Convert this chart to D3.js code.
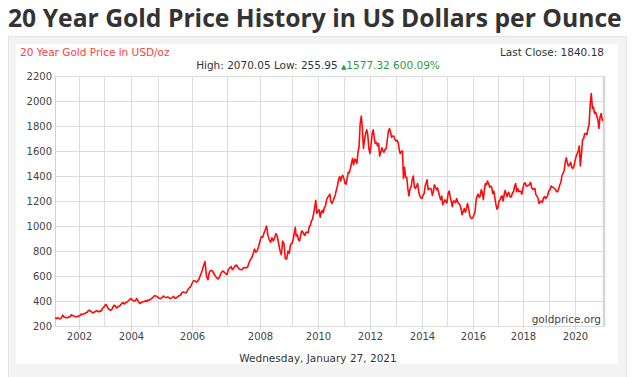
<!DOCTYPE html>
<html>
<head>
<meta charset="utf-8">
<script src="https://cdn.jsdelivr.net/npm/d3@7"></script>
<style>
  body { margin: 0; background: #fff; }
</style>
</head>
<body>
<div class="gold-chart"></div>
<script>
// gold price in USD/oz, two readings a month (1st and 16th)
const gold2001 = [272, 265, 262, 259, 266, 263, 257, 260, 268, 287, 274, 270, 267, 266, 268, 274, 275, 290, 284, 280, 278, 274, 274, 277]
const gold2002 = [279, 284, 296, 293, 292, 300, 302, 306, 310, 322, 327, 318, 316, 305, 308, 312, 318, 323, 318, 313, 320, 318, 330, 345]
const gold2003 = [352, 366, 372, 350, 338, 332, 326, 332, 350, 366, 362, 346, 347, 357, 360, 371, 381, 388, 376, 384, 390, 396, 404, 413]
const gold2004 = [420, 408, 404, 400, 402, 420, 405, 390, 380, 386, 392, 396, 396, 402, 396, 408, 404, 412, 418, 425, 434, 444, 440, 438]
const gold2005 = [428, 422, 420, 430, 440, 430, 428, 432, 425, 418, 428, 438, 422, 425, 435, 442, 448, 468, 472, 468, 466, 488, 505, 512]
const gold2006 = [540, 562, 562, 550, 558, 578, 610, 640, 680, 715, 600, 570, 630, 645, 640, 622, 600, 585, 576, 595, 625, 640, 632, 620]
const gold2007 = [612, 650, 665, 675, 650, 662, 680, 688, 670, 656, 652, 650, 665, 668, 665, 670, 705, 730, 745, 775, 815, 790, 800, 835]
const gold2008 = [880, 915, 910, 945, 970, 1000, 925, 890, 870, 905, 880, 905, 940, 920, 860, 805, 770, 880, 860, 740, 735, 800, 780, 855]
const gold2009 = [860, 890, 940, 990, 920, 930, 890, 880, 920, 960, 955, 935, 925, 950, 950, 945, 995, 1005, 1040, 1055, 1100, 1150, 1205, 1100]
const gold2010 = [1120, 1130, 1070, 1115, 1125, 1105, 1150, 1160, 1210, 1230, 1240, 1255, 1195, 1180, 1200, 1225, 1250, 1290, 1320, 1370, 1395, 1360, 1395, 1405]
const gold2011 = [1375, 1340, 1335, 1385, 1430, 1425, 1460, 1500, 1540, 1490, 1535, 1525, 1500, 1590, 1640, 1820, 1880, 1780, 1620, 1690, 1740, 1770, 1730, 1620]
const gold2012 = [1580, 1650, 1740, 1770, 1700, 1660, 1670, 1640, 1660, 1560, 1590, 1625, 1600, 1590, 1615, 1620, 1690, 1760, 1780, 1750, 1710, 1720, 1720, 1695]
const gold2013 = [1680, 1685, 1665, 1610, 1580, 1595, 1600, 1380, 1470, 1390, 1390, 1300, 1240, 1295, 1310, 1370, 1400, 1310, 1300, 1320, 1340, 1270, 1240, 1225]
const gold2014 = [1220, 1245, 1260, 1320, 1340, 1370, 1290, 1300, 1300, 1295, 1245, 1275, 1330, 1310, 1290, 1305, 1270, 1235, 1210, 1240, 1170, 1190, 1210, 1195]
const gold2015 = [1185, 1260, 1280, 1230, 1200, 1155, 1200, 1200, 1185, 1220, 1190, 1180, 1170, 1140, 1090, 1115, 1140, 1110, 1140, 1180, 1140, 1085, 1065, 1060]
const gold2016 = [1070, 1090, 1120, 1210, 1240, 1255, 1230, 1240, 1290, 1270, 1210, 1290, 1340, 1330, 1360, 1340, 1310, 1320, 1310, 1260, 1280, 1225, 1175, 1135]
const gold2017 = [1150, 1200, 1210, 1235, 1240, 1200, 1250, 1285, 1255, 1235, 1270, 1255, 1230, 1235, 1265, 1275, 1320, 1340, 1275, 1300, 1275, 1280, 1275, 1255]
const gold2018 = [1305, 1340, 1345, 1320, 1320, 1325, 1330, 1350, 1310, 1295, 1295, 1300, 1250, 1240, 1220, 1180, 1195, 1200, 1190, 1225, 1235, 1220, 1230, 1250]
const gold2019 = [1285, 1290, 1320, 1310, 1310, 1300, 1295, 1275, 1275, 1295, 1330, 1345, 1400, 1420, 1440, 1510, 1545, 1505, 1480, 1490, 1510, 1470, 1460, 1475]
const gold2020 = [1520, 1555, 1580, 1600, 1640, 1480, 1580, 1690, 1700, 1740, 1740, 1730, 1780, 1810, 1975, 2060, 1940, 1950, 1900, 1910, 1880, 1850, 1780, 1870]
const gold2021 = [1900, 1850]
const lastClose = 1840.18

const goldByYear = [gold2001, gold2002, gold2003, gold2004, gold2005, gold2006, gold2007,
    gold2008, gold2009, gold2010, gold2011, gold2012, gold2013, gold2014, gold2015,
    gold2016, gold2017, gold2018, gold2019, gold2020, gold2021]

const yTicks = [200, 400, 600, 800, 1000, 1200, 1400, 1600, 1800, 2000, 2200]
const xYears = [2002, 2003, 2004, 2005, 2006, 2007, 2008, 2009, 2010, 2011, 2012, 2013, 2014, 2015, 2016, 2017, 2018, 2019, 2020]
const xLabelYears = [2002, 2004, 2006, 2008, 2010, 2012, 2014, 2016, 2018, 2020]

const chartTitle = "20 Year Gold Price History in US Dollars per Ounce"
const subTitle = "20 Year Gold Price in USD/oz"
const lastCloseText = "Last Close: 1840.18"
const statsText = "High: 2070.05 Low: 255.95 "
const changeText = "1577.32 600.09%"
const dateText = "Wednesday, January 27, 2021"
const sourceText = "goldprice.org"

const width = 640
const height = 377
const margin = { top: 76, right: 37, bottom: 51, left: 55 }
const firstDate = new Date(2001, 0, 27)
const lastDate = new Date(2021, 0, 27)

let xGold, yGold, svgGold

// flatten to {date, price}
const goldData = []
goldByYear.forEach((vals, i) => {
    vals.forEach((v, j) => {
        goldData.push({ date: new Date(2001 + i, Math.floor(j / 2), j % 2 ? 16 : 1), price: v })
    })
})
goldData.push({ date: lastDate, price: lastClose })

initGold()

function initGold() {
    // the source chart spaces years unevenly (2005-2009 wider), so piecewise scale
    const yearDates = [firstDate, ...xYears.map(y => new Date(y, 0, 1)), lastDate]
    const yearPx = [0, 24, 49, 76, 103, 137, 172, 205, 237, 263, 289, 315, 341, 367, 392, 418, 443, 468, 494, 520, 548]
    xGold = d3.scaleTime()
        .domain(yearDates)
        .range(yearPx.map(p => margin.left + p))
    yGold = d3.scaleLinear()
        .domain([200, 2200])
        .range([height - margin.bottom, margin.top])

    svgGold = d3.select(".gold-chart")
        .append("svg")
        .attr("width", width)
        .attr("height", height)
        .style("display", "block")

    // page title
    const title = svgGold.append("text")
        .text(chartTitle)
        .attr("x", 8)
        .attr("y", 27)
        .attr("fill", "#333")
        .attr("font-family", "'Open Sans', sans-serif")
        .attr("font-weight", "700")
        .attr("font-size", 26)
    const tw = title.node().getComputedTextLength()
    title.attr("font-size", 26 * 614 / tw)

    // grey frame and white card
    svgGold.append("rect")
        .attr("x", 8.5).attr("y", 36.5)
        .attr("width", 618).attr("height", 350)
        .attr("fill", "#f3f3f3")
        .attr("stroke", "#e4e4e4")
    svgGold.append("rect")
        .attr("x", 16).attr("y", 44)
        .attr("width", 602).attr("height", 320)
        .attr("fill", "#fff")

    const font = "'DejaVu Sans', Verdana, sans-serif"

    svgGold.append("text")
        .text(subTitle)
        .attr("x", 20).attr("y", 56)
        .attr("fill", "#ff4040")
        .attr("font-family", font).attr("font-size", 10.5)
    svgGold.append("text")
        .text(lastCloseText)
        .attr("x", 604).attr("y", 56)
        .attr("text-anchor", "end")
        .attr("fill", "#333")
        .attr("font-family", font).attr("font-size", 10.5)

    const stats = svgGold.append("text")
        .attr("x", 318).attr("y", 69)
        .attr("text-anchor", "middle")
        .attr("font-family", font).attr("font-size", 10.5)
    stats.append("tspan").text(statsText).attr("fill", "#333")
    stats.append("tspan").text("\u25B2").attr("fill", "#2e9a3a").attr("font-size", 7)
    stats.append("tspan").text(changeText).attr("fill", "#2e9a3a")

    // grid
    const plot = svgGold.append("g")
    plot.selectAll("line.hgrid")
        .data(yTicks)
        .join("line")
        .attr("class", "hgrid")
        .attr("x1", margin.left).attr("x2", width - margin.right)
        .attr("y1", d => yGold(d) + 0.5).attr("y2", d => yGold(d) + 0.5)
        .attr("stroke", "#dcdcdc")
    plot.selectAll("line.vgrid")
        .data(xYears)
        .join("line")
        .attr("class", "vgrid")
        .attr("x1", d => Math.round(xGold(new Date(d, 0, 1))) + 0.5)
        .attr("x2", d => Math.round(xGold(new Date(d, 0, 1))) + 0.5)
        .attr("y1", margin.top)
        .attr("y2", d => height - margin.bottom + (d % 2 ? 0 : 4))
        .attr("stroke", "#dcdcdc")
    plot.append("line")
        .attr("x1", margin.left + 0.5).attr("x2", margin.left + 0.5)
        .attr("y1", margin.top).attr("y2", height - margin.bottom + 1)
        .attr("stroke", "#d0d0d0")
    plot.append("line")
        .attr("x1", width - margin.right + 1).attr("x2", width - margin.right + 1)
        .attr("y1", margin.top).attr("y2", height - margin.bottom + 1)
        .attr("stroke", "#d6d6d6").attr("stroke-width", 2.5)

    // y axis labels
    const yAxis = d3.axisLeft(yGold).tickValues(yTicks)
        .tickFormat(d3.format("d"))
        .tickSize(0).tickPadding(3)
    svgGold.append("g")
        .attr("transform", `translate(${margin.left}, 0)`)
        .call(yAxis)
        .call(g => g.select(".domain").remove())
        .selectAll("text")
        .attr("fill", "#444")
        .attr("font-family", font)
        .attr("font-size", 10)

    // x axis labels
    const xAxis = d3.axisBottom(xGold)
        .tickValues(xLabelYears.map(y => new Date(y, 0, 1)))
        .tickFormat(d3.timeFormat("%Y"))
        .tickSize(0).tickPadding(7)
    svgGold.append("g")
        .attr("transform", `translate(0, ${height - margin.bottom})`)
        .call(xAxis)
        .call(g => g.select(".domain").remove())
        .selectAll("text")
        .attr("fill", "#444")
        .attr("font-family", font)
        .attr("font-size", 10)

    svgGold.append("text")
        .text(sourceText)
        .attr("x", 601).attr("y", 323)
        .attr("text-anchor", "end")
        .attr("fill", "#444")
        .attr("font-family", font).attr("font-size", 10.5)

    svgGold.append("text")
        .text(dateText)
        .attr("x", 318).attr("y", 362)
        .attr("text-anchor", "middle")
        .attr("fill", "#333")
        .attr("font-family", font).attr("font-size", 10.5)

    svgGold.append("clipPath")
        .attr("id", "plot-clip")
        .append("rect")
        .attr("x", margin.left).attr("y", margin.top)
        .attr("width", width - margin.left - margin.right)
        .attr("height", height - margin.top - margin.bottom)

    drawGold()
}

function drawGold() {
    const lineGold = d3.line()
        .x(d => xGold(d.date))
        .y(d => yGold(d.price))

    svgGold.append("path")
        .datum(goldData)
        .attr("clip-path", "url(#plot-clip)")
        .attr("fill", "none")
        .attr("stroke", "#ff0a0a")
        .attr("stroke-width", 1.6)
        .attr("stroke-linejoin", "round")
        .attr("d", lineGold)
}
</script>
</body>
</html>
